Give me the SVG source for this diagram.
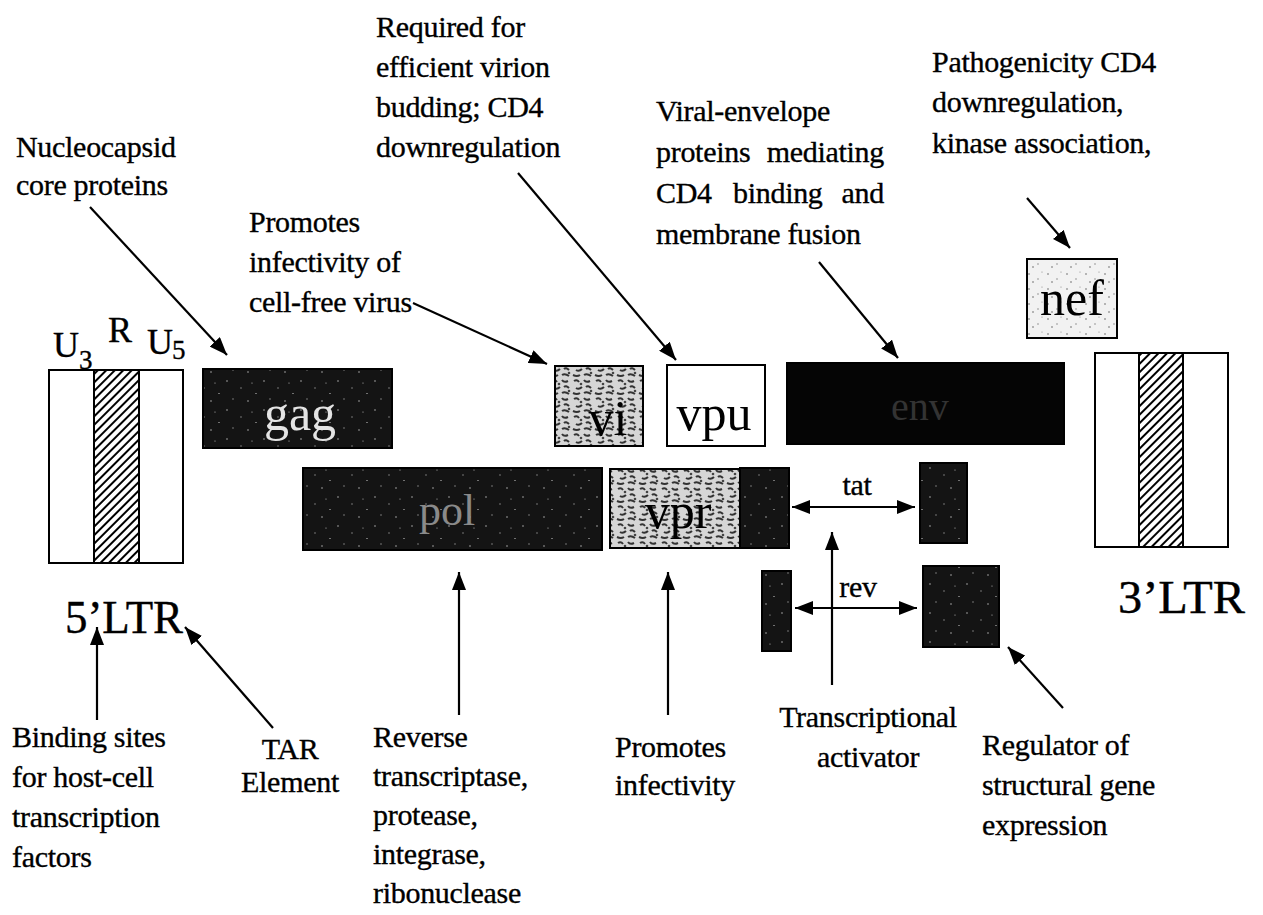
<svg xmlns="http://www.w3.org/2000/svg" width="1263" height="915" viewBox="0 0 1263 915">
<style>
.t{font-family:"Liberation Serif","Times New Roman",serif;font-size:30px;fill:#000;stroke:#000;stroke-width:0.35;letter-spacing:-0.3px}
.g{font-family:"Liberation Serif","Times New Roman",serif;font-size:50px;text-anchor:middle}
.big{font-family:"Liberation Serif","Times New Roman",serif;font-size:47px;fill:#000;stroke:#000;stroke-width:0.4}
.box{stroke:#000;stroke-width:2}
.conn line{stroke:#000;stroke-width:2.2;fill:none}
.one{marker-end:url(#ah)}
.two{marker-end:url(#ah);marker-start:url(#ah2)}
</style>
<defs>
<marker id="ah" markerUnits="userSpaceOnUse" markerWidth="20" markerHeight="14" refX="18" refY="7" orient="auto"><path d="M0,0 L18,7 L0,14 z" fill="#000"/></marker>
<marker id="ah2" markerUnits="userSpaceOnUse" markerWidth="20" markerHeight="14" refX="0" refY="7" orient="auto"><path d="M18,0 L0,7 L18,14 z" fill="#000"/></marker>
<pattern id="hatch" width="6" height="6" patternUnits="userSpaceOnUse" patternTransform="rotate(45)"><rect width="6" height="6" fill="#fff"/><line x1="1" y1="0" x2="1" y2="6" stroke="#000" stroke-width="2"/></pattern>
<pattern id="dark" width="37" height="29" patternUnits="userSpaceOnUse"><rect width="37" height="29" fill="#141414"/><circle cx="5" cy="4" r="0.8" fill="#aaa"/><circle cx="19" cy="11" r="0.7" fill="#999"/><circle cx="30" cy="6" r="0.6" fill="#bbb"/><circle cx="11" cy="22" r="0.7" fill="#999"/><circle cx="26" cy="24" r="0.8" fill="#aaa"/><rect x="33" y="16" width="2" height="0.8" fill="#888"/></pattern>
<pattern id="mottle" width="22" height="18" patternUnits="userSpaceOnUse"><rect width="22" height="18" fill="#d6d6d6"/><path d="M2,3 q3,-2 5,1 M12,2 q2,3 6,1 M4,10 q3,2 6,-1 M14,9 q2,-2 5,1 M1,15 q4,2 7,0 M12,15 q3,-2 7,1" stroke="#333" stroke-width="2" fill="none"/><circle cx="9" cy="6" r="1.3" fill="#444"/><circle cx="19" cy="13" r="1.3" fill="#444"/></pattern>
<pattern id="dots" width="19" height="15" patternUnits="userSpaceOnUse"><rect width="19" height="15" fill="#f2f2f2"/><circle cx="3" cy="4" r="0.8" fill="#666"/><circle cx="12" cy="9" r="0.7" fill="#777"/><circle cx="16" cy="2" r="0.6" fill="#888"/><circle cx="7" cy="12" r="0.8" fill="#666"/></pattern>
</defs>
<rect width="1263" height="915" fill="#fff"/>

<g id="ltr5">
<rect x="49" y="370" width="134" height="193" fill="#fff" class="box"/>
<rect x="94" y="370" width="45" height="193" fill="url(#hatch)" class="box"/>
<text class="t" x="53" y="357" style="font-size:36px">U</text><text class="t" x="79" y="369" style="font-size:27px">3</text>
<text class="t" x="108" y="342" style="font-size:36px">R</text>
<text class="t" x="147" y="354" style="font-size:36px">U</text><text class="t" x="172" y="359" style="font-size:27px">5</text>
<text class="big" x="65" y="633" textLength="118" lengthAdjust="spacingAndGlyphs">5’LTR</text>
</g>

<g id="ltr3">
<rect x="1095" y="353" width="133" height="194" fill="#fff" class="box"/>
<rect x="1139" y="353" width="44" height="194" fill="url(#hatch)" class="box"/>
<text class="big" x="1118" y="613" textLength="127" lengthAdjust="spacingAndGlyphs">3’LTR</text>
</g>

<g id="gag"><rect x="203" y="369" width="189" height="79" fill="url(#dark)" class="box"/><text class="g" x="300" y="430" fill="#e4e4e4">gag</text></g>
<g id="pol"><rect x="303" y="468" width="299" height="82" fill="url(#dark)" class="box"/><text class="g" x="447" y="525" fill="#8a8a8a" style="font-size:44px">pol</text></g>
<g id="vi"><rect x="555" y="366" width="88" height="80" fill="url(#mottle)" class="box"/><text class="g" x="608" y="435" fill="#000">vi</text></g>
<g id="vpu"><rect x="667" y="365" width="98" height="81" fill="#fff" class="box"/><text class="g" x="714" y="430" fill="#000">vpu</text></g>
<g id="env"><rect x="787" y="363" width="277" height="81" fill="#050505" class="box"/><text class="g" x="920" y="420" fill="#333" style="font-size:40px">env</text></g>
<g id="nef"><rect x="1027" y="259" width="90" height="79" fill="url(#dots)" class="box"/><text class="g" x="1072" y="315" fill="#000">nef</text></g>
<g id="vpr"><rect x="610" y="469" width="130" height="79" fill="url(#mottle)" class="box"/><text class="g" x="678" y="528" fill="#000">vpr</text></g>
<g id="tat1"><rect x="740" y="468" width="49" height="80" fill="url(#dark)" class="box"/></g>
<g id="tat2"><rect x="920" y="463" width="47" height="80" fill="url(#dark)" class="box"/></g>
<g id="rev1"><rect x="762" y="571" width="29" height="80" fill="url(#dark)" class="box"/></g>
<g id="rev2"><rect x="923" y="566" width="76" height="81" fill="url(#dark)" class="box"/></g>

<g id="labels">
<text class="t" x="16" y="157">Nucleocapsid</text>
<text class="t" x="16" y="195">core proteins</text>
<text class="t" x="376" y="37">Required for</text>
<text class="t" x="376" y="77">efficient virion</text>
<text class="t" x="376" y="117">budding; CD4</text>
<text class="t" x="376" y="157">downregulation</text>
<text class="t" x="249" y="232">Promotes</text>
<text class="t" x="249" y="272">infectivity of</text>
<text class="t" x="249" y="312">cell-free virus</text>
<text class="t" x="656" y="121">Viral-envelope</text>
<text class="t" x="656" y="162">proteins</text><text class="t" x="884" y="162" text-anchor="end">mediating</text>
<text class="t" x="656" y="203">CD4</text><text class="t" x="733" y="203">binding</text><text class="t" x="884" y="203" text-anchor="end">and</text>
<text class="t" x="656" y="244">membrane fusion</text>
<text class="t" x="932" y="72">Pathogenicity CD4</text>
<text class="t" x="932" y="112">downregulation,</text>
<text class="t" x="932" y="153">kinase association,</text>
<text class="t" x="12" y="747">Binding sites</text>
<text class="t" x="12" y="787">for host-cell</text>
<text class="t" x="12" y="827">transcription</text>
<text class="t" x="12" y="867">factors</text>
<text class="t" x="290" y="759" text-anchor="middle">TAR</text>
<text class="t" x="290" y="792" text-anchor="middle">Element</text>
<text class="t" x="373" y="747">Reverse</text>
<text class="t" x="373" y="786">transcriptase,</text>
<text class="t" x="373" y="825">protease,</text>
<text class="t" x="373" y="864">integrase,</text>
<text class="t" x="373" y="903">ribonuclease</text>
<text class="t" x="615" y="757">Promotes</text>
<text class="t" x="615" y="795">infectivity</text>
<text class="t" x="868" y="727" text-anchor="middle">Transcriptional</text>
<text class="t" x="868" y="767" text-anchor="middle">activator</text>
<text class="t" x="982" y="755">Regulator of</text>
<text class="t" x="982" y="795">structural gene</text>
<text class="t" x="982" y="835">expression</text>
<text class="t" x="857" y="495" text-anchor="middle">tat</text>
<text class="t" x="858" y="597" text-anchor="middle">rev</text>
</g>

<g id="connectors" class="conn">
<line class="one" x1="90" y1="207" x2="227" y2="355"/>
<line class="one" x1="413" y1="303" x2="547" y2="364"/>
<line class="one" x1="518" y1="173" x2="676" y2="360"/>
<line class="one" x1="819" y1="262" x2="898" y2="358"/>
<line class="one" x1="1027" y1="198" x2="1070" y2="248"/>
<line class="one" x1="97" y1="720" x2="97" y2="627"/>
<line class="one" x1="273" y1="728" x2="185" y2="627"/>
<line class="one" x1="459" y1="715" x2="459" y2="572"/>
<line class="one" x1="668" y1="715" x2="668" y2="572"/>
<line class="one" x1="832" y1="685" x2="832" y2="532"/>
<line class="one" x1="1063" y1="708" x2="1008" y2="647"/>
<line class="two" x1="792" y1="507" x2="915" y2="507"/>
<line class="two" x1="795" y1="608" x2="917" y2="608"/>
</g>
</svg>
